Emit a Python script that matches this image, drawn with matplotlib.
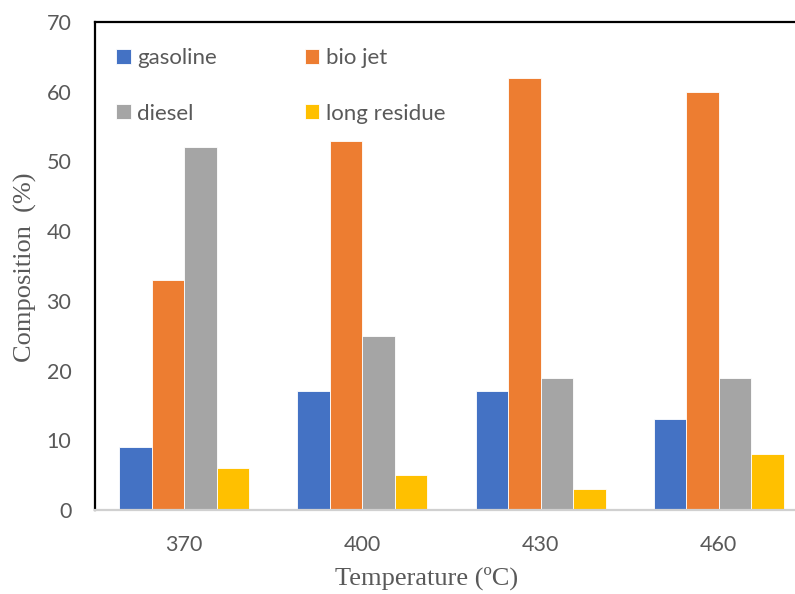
import matplotlib
matplotlib.use("Agg")
import matplotlib.pyplot as plt
import numpy as np

temperatures = ["370", "400", "430", "460"]
series_names = ["gasoline", "bio jet", "diesel", "long residue"]
gasoline = [9, 17, 17, 13]
bio_jet = [33, 53, 62, 60]
diesel = [52, 25, 19, 19]
long_residue = [6, 5, 3, 8]
colors = ["#4472C4", "#ED7D31", "#A5A5A5", "#FFC000"]

fig = plt.figure(figsize=(7.95, 5.94), dpi=100)
ax = fig.add_axes([95 / 795, 84 / 594, 713 / 795, 488 / 594])

x = np.arange(len(temperatures))
w = 0.1825
bars = []
for i, (vals, c, name) in enumerate(zip([gasoline, bio_jet, diesel, long_residue], colors, series_names)):
    b = ax.bar(x + (i - 1.5) * w, vals, w, color=c, edgecolor="white", linewidth=0.6, label=name)
    bars.append(b)

ax.set_xlim(-0.5, 3.5)
ax.set_ylim(0, 70)
ax.set_yticks(range(0, 71, 10))
ax.set_xticks(x)
ax.set_xticklabels(temperatures)

for lab in ax.get_xticklabels() + ax.get_yticklabels():
    lab.set_fontfamily(["Lato", "DejaVu Sans"])
    lab.set_fontsize(15.5)
    lab.set_color("#595959")
ax.tick_params(axis="y", length=0, pad=17)
ax.tick_params(axis="x", length=0, pad=18)

for s in ["left", "top"]:
    ax.spines[s].set_color("black")
    ax.spines[s].set_linewidth(1.6)
ax.spines["bottom"].set_color("#D0D0D0")
ax.spines["bottom"].set_linewidth(1.6)
ax.spines["right"].set_visible(False)

serif = ["Liberation Serif", "DejaVu Serif"]
fig.text(427 / 795, 16 / 594, "Temperature (ºC)", family=serif, size=19,
         color="#595959", ha="center", va="center")
fig.text(25 / 795, (594 - 267) / 594, "Composition  (%)", family=serif, size=19,
         color="#595959", ha="center", va="center", rotation=90)

order = [0, 2, 1, 3]
leg = ax.legend([bars[i] for i in order], [series_names[i] for i in order], ncol=2,
                frameon=False, loc="upper left", bbox_to_anchor=(0.0175, 0.965),
                prop=dict(family=["Lato", "DejaVu Sans"], size=16),
                handlelength=0.65, handleheight=0.65, handletextpad=0.3,
                labelspacing=1.6, columnspacing=3.95, borderaxespad=0)
for t in leg.get_texts():
    t.set_color("#595959")

fig.savefig("out.png", dpi=100)
